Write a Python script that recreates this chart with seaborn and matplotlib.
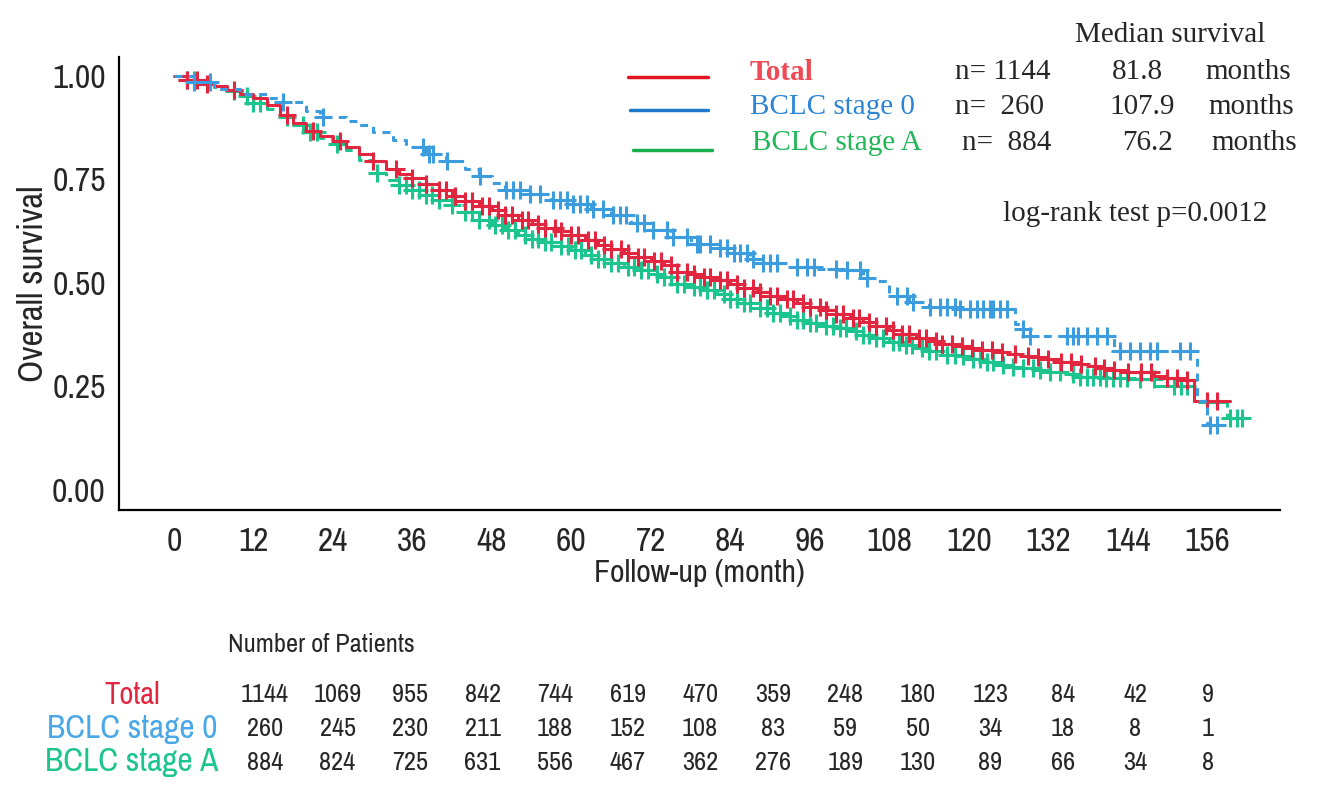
import numpy as np
import matplotlib
matplotlib.use("Agg")
import matplotlib.pyplot as plt
import seaborn as sns
from matplotlib import font_manager

# Kaplan-Meier step knots (month, survival)
total_t = [0, 2, 4, 6, 8, 10, 12, 14, 16, 18, 20, 22, 24, 26, 28, 30, 32, 34, 36, 38,
           40, 42, 44, 46, 48, 50, 52, 54, 56, 58, 60, 62, 64, 66, 68, 70, 72, 74, 76, 78,
           80, 82, 84, 86, 88, 90, 92, 94, 96, 98, 100, 102, 104, 106, 108, 110, 112, 114,
           116, 118, 120, 122, 124, 126, 128, 130, 132, 134, 136, 138, 140, 142, 144, 146,
           148, 150, 152, 154, 159.5]
total_s = [1.0, 0.99, 0.98, 0.975, 0.965, 0.955, 0.945, 0.93, 0.905, 0.885, 0.866, 0.855,
           0.842, 0.828, 0.812, 0.795, 0.775, 0.762, 0.752, 0.738, 0.725, 0.71, 0.698, 0.686,
           0.676, 0.664, 0.652, 0.643, 0.633, 0.624, 0.615, 0.604, 0.592, 0.581, 0.572, 0.562,
           0.552, 0.543, 0.526, 0.521, 0.514, 0.506, 0.498, 0.488, 0.478, 0.468, 0.46, 0.451,
           0.443, 0.434, 0.426, 0.416, 0.406, 0.396, 0.386, 0.377, 0.368, 0.36, 0.352, 0.348,
           0.343, 0.338, 0.333, 0.328, 0.324, 0.321, 0.316, 0.31, 0.304, 0.299, 0.294, 0.289,
           0.286, 0.284, 0.276, 0.27, 0.266, 0.214, 0.214]

stage0_t = [0, 3, 6, 10, 14, 16, 20, 22, 26, 28, 30, 33, 35, 38, 41, 44, 46, 48, 50, 53,
            57, 60, 63, 66, 69, 72, 75, 78, 81, 84, 87, 89, 93, 97, 101, 104, 106, 108, 111,
            114, 118, 127, 128, 129, 142, 154.5, 156, 158.5]
stage0_s = [1.0, 0.985, 0.968, 0.955, 0.945, 0.937, 0.915, 0.9, 0.89, 0.881, 0.865, 0.845,
            0.828, 0.81, 0.795, 0.775, 0.758, 0.74, 0.725, 0.715, 0.7, 0.69, 0.678, 0.664,
            0.645, 0.628, 0.61, 0.595, 0.585, 0.572, 0.558, 0.547, 0.538, 0.534, 0.53, 0.512,
            0.505, 0.468, 0.455, 0.443, 0.438, 0.4, 0.389, 0.372, 0.336, 0.215, 0.158, 0.158]

stageA_t = [0, 2, 4, 6, 8, 10, 12, 14, 16, 18, 20, 22, 24, 26, 28, 30, 32, 34, 36, 38,
            40, 42, 44, 46, 48, 50, 52, 54, 56, 58, 60, 62, 64, 66, 68, 70, 72, 74, 76, 78,
            80, 82, 84, 86, 88, 90, 92, 94, 96, 98, 100, 102, 104, 106, 108, 110, 112, 114,
            116, 118, 120, 122, 124, 126, 128, 130, 132, 134, 136, 140, 144, 148, 154, 159,
            161.7]
stageA_s = [1.0, 0.99, 0.98, 0.972, 0.962, 0.95, 0.935, 0.92, 0.9, 0.882, 0.864, 0.85,
            0.836, 0.82, 0.797, 0.765, 0.748, 0.735, 0.725, 0.712, 0.7, 0.688, 0.67, 0.652,
            0.64, 0.628, 0.616, 0.607, 0.598, 0.588, 0.579, 0.568, 0.558, 0.548, 0.538, 0.53,
            0.522, 0.514, 0.498, 0.49, 0.484, 0.472, 0.462, 0.452, 0.44, 0.428, 0.419, 0.41,
            0.403, 0.397, 0.391, 0.383, 0.374, 0.366, 0.358, 0.35, 0.343, 0.336, 0.327, 0.323,
            0.316, 0.308, 0.302, 0.298, 0.294, 0.29, 0.286, 0.279, 0.272, 0.27, 0.268, 0.251,
            0.212, 0.175, 0.175]

# censoring times (months)
total_c = [2, 3.5, 5, 9, 17, 21, 25, 30, 33.5, 36, 38, 40, 41, 42.5, 44, 45, 46.5, 47.5,
           49, 50, 51, 52.5, 53.5, 55, 56, 57.5, 58.5, 60, 61, 62.5, 63.5, 65, 66, 67.5,
           68.5, 70, 71, 72.5, 73.5, 75, 76, 77.5, 78.5, 80, 81, 82.5, 83.5, 85, 86, 87.5,
           88.5, 90, 91, 92.5, 93.5, 95, 96, 97.5, 98.5, 100, 101, 102.5, 103.5, 105, 106,
           107.5, 108.5, 110, 111, 112.5, 113.5, 115, 116, 117.5, 119, 120.5, 122, 123.5,
           125, 127, 129, 130.5, 132, 134, 135.5, 137, 139, 140.5, 142, 144, 146, 147.5,
           150, 151.5, 153, 156, 157.5]
stage0_c = [3, 5.4, 16.5, 22.5, 37.6, 38.5, 39.1, 41.2, 46.2, 50.2, 51.2, 52.3, 53.8,
            55.3, 57.3, 58.3, 59.3, 60.3, 61.3, 62.3, 63.3, 64.8, 66.3, 67.3, 68.3, 69.9,
            70.9, 72.4, 74.4, 75.4, 77.4, 78.9, 79.4, 80.9, 82.5, 83.5, 84.5, 85.5, 86.5,
            87.5, 89, 90, 91, 94, 95.6, 96.6, 100, 101.6, 103.6, 104.6, 109.2, 110.7, 111.6,
            114.2, 115.7, 116.7, 117.9, 118.7, 120.2, 121.2, 122.2, 123.2, 123.7, 124.7,
            125.8, 128.2, 129.3, 134.8, 135.8, 136.5, 137.9, 139.4, 140.9, 142.9, 144.4,
            145.9, 147.4, 148.4, 151.9, 153.4, 156.5, 157.5]
stageA_c = [2, 3, 9, 11, 12, 13, 17, 19.5, 20.5, 21.6, 24.6, 30.7, 34, 35, 36, 37, 38,
            39, 40, 42, 44, 45, 46, 47.5, 48.5, 49.5, 50.5, 51.5, 53, 54, 55, 56, 57, 58.5,
            59.5, 60.5, 61.5, 63, 64, 65, 66, 67, 68.5, 69.5, 70.5, 71.5, 73, 74, 75, 76,
            77, 78.5, 79.5, 80.5, 81.5, 83, 84, 85, 86, 87, 88.5, 89.5, 90.5, 91.5, 93, 94,
            95, 96, 97, 98.5, 99.5, 100.5, 101.5, 103, 104, 105, 106, 107, 108.5, 109.5,
            110.5, 111.5, 113, 114, 115, 116.7, 117.9, 119.2, 120.7, 121.7, 122.7, 123.7,
            125.2, 126.7, 128.2, 129.7, 130.8, 132.3, 133.8, 135.8, 136.8, 137.8, 138.8,
            139.8, 140.8, 141.8, 142.8, 143.9, 145.9, 147.9, 151, 152, 153, 156, 159.5,
            160.5, 161.2]

groups = ["Total", "BCLC stage 0", "BCLC stage A"]
n_patients = [1144, 260, 884]
median_months = ["81.8", "107.9", "76.2"]
risk_times = [0, 12, 24, 36, 48, 60, 72, 84, 96, 108, 120, 132, 144, 156]
risk_total = [1144, 1069, 955, 842, 744, 619, 470, 359, 248, 180, 123, 84, 42, 9]
risk_stage0 = [260, 245, 230, 211, 188, 152, 108, 83, 59, 50, 34, 18, 8, 1]
risk_stageA = [884, 824, 725, 631, 556, 467, 362, 276, 189, 130, 89, 66, 34, 8]

sns.set_style("white")

# look for a narrow sans face, like the Arial Narrow of the original
narrow = None
stretch = "normal"
for f in font_manager.fontManager.ttflist:
    if "Narrow" in f.name or "Condensed" in f.name:
        narrow = f.name
        break
if narrow is None:
    for f in font_manager.fontManager.ttflist:
        if f.name in ("DejaVu Sans", "Liberation Sans") and f.stretch in ("condensed", "semi-condensed"):
            narrow, stretch = f.name, f.stretch
            break
if narrow is None:
    narrow = "Liberation Sans"
plt.rcParams["font.family"] = [narrow, "DejaVu Sans"]
plt.rcParams["font.stretch"] = stretch
has_narrow = narrow != "Liberation Sans"
serif = ["Liberation Serif", "DejaVu Serif"]

W, H = 1318, 793
fig = plt.figure(figsize=(W / 100, H / 100), dpi=100)
ax = fig.add_axes([119 / W, 1 - 510 / H, (1280 - 119) / W, (510 - 57) / H])

curve_col = ["#e3263f", "#3b9ddd", "#1cc48e"]
curves = [(total_t, total_s, total_c), (stage0_t, stage0_s, stage0_c), (stageA_t, stageA_s, stageA_c)]
dashes = [None, (2.6, 2.2), (4.5, 2.0)]
order = [2, 0, 1]
for i in order:
    t, s, c = curves[i]
    sns.lineplot(x=t, y=s, drawstyle="steps-post", color=curve_col[i], lw=2.2, ax=ax)
    line = ax.get_lines()[-1]
    if dashes[i] is not None:
        line.set_dashes(dashes[i])
    idx = np.searchsorted(t, c, side="right") - 1
    cy = np.array(s)[idx]
    ax.plot(c, cy, "+", color=curve_col[i], ms=13, mew=2.2)

tick_fs = 24 if has_narrow else 20
ax.set_xlim(-8.3, 167)
ax.set_ylim(-0.048, 1.045)
ax.set_xticks(risk_times)
ax.set_yticks([0, 0.25, 0.5, 0.75, 1.0])
ax.set_yticklabels(["0.00", "0.25", "0.50", "0.75", "1.00"])
ax.tick_params(axis="both", labelsize=tick_fs, length=6, width=1.5, color="black", direction="out")
ax.tick_params(axis="x", pad=6)
for side in ["top", "right"]:
    ax.spines[side].set_visible(False)
for side in ["left", "bottom"]:
    ax.spines[side].set_linewidth(1.6)
    ax.spines[side].set_color("black")
ax.set_xlabel("Follow-up (month)", fontsize=tick_fs - 1, labelpad=2)
ax.set_ylabel("Overall survival", fontsize=tick_fs + 1, labelpad=2)


def fx(x):
    return x / W


def fy(y):
    return 1 - y / H


# legend block
leg_fs = 21
leg_line = ["#e4141e", "#1f78c8", "#17b04c"]
leg_text = ["#ef4a55", "#2b84d6", "#1fb655"]
rows_y = [72, 107, 143]
line_x = [(628, 708), (630, 708), (633, 712)]
line_y = [77, 110, 150]
for k in range(3):
    fig.add_artist(plt.Line2D([fx(line_x[k][0]), fx(line_x[k][1])], [fy(line_y[k])] * 2,
                              color=leg_line[k], lw=2.5))
    fig.text(fx(750 + 2 * (k == 2)), fy(rows_y[k]), groups[k], color=leg_text[k], fontsize=leg_fs,
             family=serif, weight="bold" if k == 0 else "normal", va="center")
    fig.text(fx(955 + 7 * (k == 2)), fy(rows_y[k]),
             "n= %s" % (str(n_patients[k]) if k == 0 else " " + str(n_patients[k])),
             fontsize=leg_fs, family=serif, va="center")
    fig.text(fx(1137 + 5 * k), fy(rows_y[k]), median_months[k], fontsize=leg_fs, family=serif,
             va="center", ha="center")
    fig.text(fx(1205 + 3 * k), fy(rows_y[k]), "months", fontsize=leg_fs, family=serif, va="center")
fig.text(fx(1170), fy(35), "Median survival", fontsize=leg_fs, family=serif, va="center", ha="center")
fig.text(fx(1135), fy(214), "log-rank test p=0.0012", fontsize=leg_fs, family=serif,
         va="center", ha="center")

# number at risk table
tab = fig.add_axes([0, 0, 1, 1])
tab.set_axis_off()
tab.patch.set_alpha(0)
col0, col_step = 265, (1208 - 265) / 156
tab.set_xlim(-col0 / col_step, (W - col0) / col_step)
tab.set_ylim(H, 0)
tab.text(-37 / col_step, 645, "Number of Patients", fontsize=19 if has_narrow else 16,
         va="center", ha="left")
risk_rows = [risk_total, risk_stage0, risk_stageA]
row_lab_col = ["#e3263f", "#4aa8e8", "#1cc48e"]
table_y = [695, 729, 762]
for k in range(3):
    tab.text((132 - col0) / col_step, table_y[k], groups[k], color=row_lab_col[k],
             fontsize=(22 if k == 0 else 24) if has_narrow else 20, va="center", ha="center")
    for tt, v in zip(risk_times, risk_rows[k]):
        tab.text(tt, table_y[k], str(v), fontsize=19 if has_narrow else 17,
                 va="center", ha="center")

fig.savefig("out.png", dpi=100)
